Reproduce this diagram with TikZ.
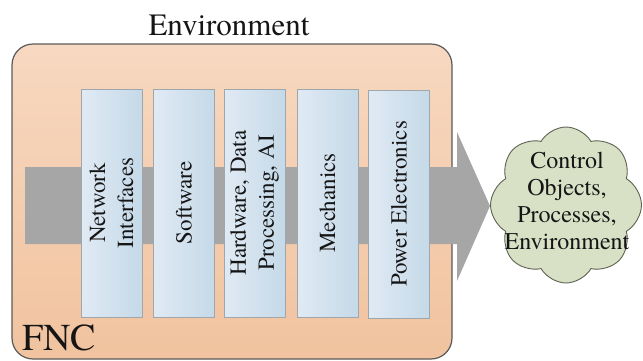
\documentclass[tikz,border=0pt]{standalone}
\usepackage{fontspec}
\setmainfont{TeX Gyre Termes}
\usetikzlibrary{shapes.symbols}
\definecolor{orangetop}{HTML}{F7D8C0}
\definecolor{orangebot}{HTML}{F1C39F}
\definecolor{blueleft}{HTML}{E0EAF4}
\definecolor{blueright}{HTML}{C5D9E8}
\definecolor{bandgray}{HTML}{A6A6A6}
\definecolor{cloudfill}{HTML}{D8E1C6}
\definecolor{cloudline}{HTML}{5E6252}
\definecolor{boxline}{HTML}{5A5A5A}
\definecolor{layerline}{HTML}{9EA6AE}
\definecolor{inktext}{HTML}{151515}
\tikzset{
  fncbox/.style={draw=boxline, line width=1.2pt, rounded corners=21pt,
    top color=orangetop, bottom color=orangebot},
  layerbox/.style={draw=layerline, line width=0.6pt, left color=blueleft,
    right color=blueright, minimum width=61pt, minimum height=228pt,
    inner sep=0pt, outer sep=0pt},
  layertext/.style={rotate=90, align=center, text=inktext,
    font=\fontsize{23}{28}\selectfont},
  cloudshape/.style={cloud, cloud puffs=8, cloud puff arc=120, aspect=0.97,
    draw=cloudline, line width=0.9pt, fill=cloudfill,
    minimum width=151pt, minimum height=156pt, inner sep=0pt},
  cloudtext/.style={align=center, text=inktext,
    font=\fontsize{24}{27}\selectfont},
}
\begin{document}
\begin{tikzpicture}[x=1pt, y=-1pt]
\useasboundingbox (0,0) rectangle (643,360);
% FNC container
\path[fncbox] (12,44) rectangle (452,359);
\node[anchor=base, text=inktext, font=\fontsize{31}{36}\selectfont] (env) at (229,35) {Environment};
\node[anchor=base west, text=inktext, font=\fontsize{38}{44}\selectfont, inner sep=0pt] (fnc) at (22,350) {FNC};
% gray arrow
\coordinate (tail) at (25,205);
\coordinate (tip) at (490,206);
\fill[bandgray] (25,167) -- (457,167) -- (457,132) -- (tip) -- (457,281) -- (457,244) -- (25,244) -- cycle;
% layers
\node[layerbox] (b1) at (111.5,203) {};
\node[layerbox] (b2) at (184,203) {};
\node[layerbox] (b3) at (254.5,203) {};
\node[layerbox] (b4) at (327.5,203) {};
\node[layerbox] (b5) at (399,204) {};
\node[layertext] (t1) at (b1) {Network\\Interfaces};
\node[layertext] (t2) at (b2) {Software};
\node[layertext] (t3) at (b3) {Hardware, Data\\Processing, AI};
\node[layertext] (t4) at (b4) {Mechanics};
\node[layertext] (t5) at (b5) {Power Electronics};
% cloud
\node[cloudshape] (cl) at (566,205) {};
\node[cloudtext] (clt) at (567,201) {Control\\Objects,\\Processes,\\Environment};
\end{tikzpicture}
\end{document}
